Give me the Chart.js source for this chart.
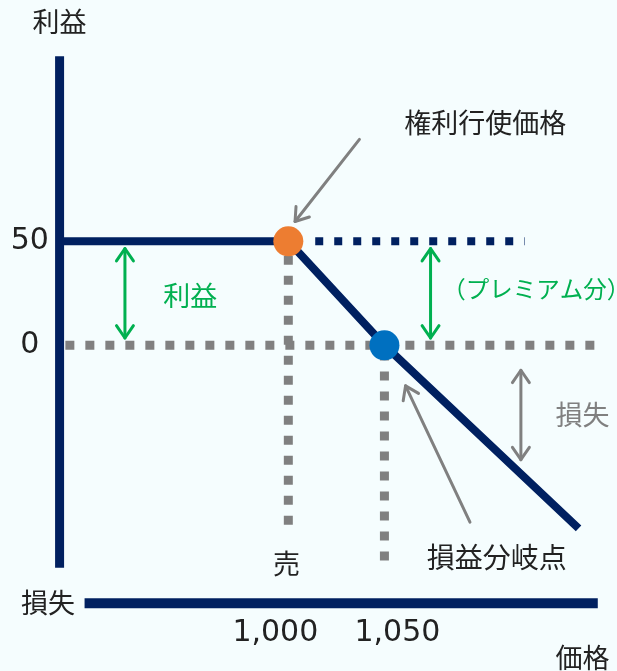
<!DOCTYPE html>
<html>
<head>
<meta charset="utf-8">
<script src="https://cdn.jsdelivr.net/npm/chart.js@4/dist/chart.umd.min.js"></script>
<style>
  html, body { margin: 0; padding: 0; background: #f5fdfe; overflow: hidden; }
  #wrap { width: 617px; height: 671px; position: relative; }
</style>
</head>
<body>
<div id="wrap"><canvas id="payoff"></canvas></div>
<script>
// payoff of the position (price -> profit)
const payoffPrice = [882, 1000, 1050, 1151];
const payoffProfit = [50, 50, 0, -88];

const strikePrice = 1000;
const breakEvenPrice = 1050;
const premium = 50;

// axis tick labels
const yTickValues = [50, 0];
const yTickLabels = ["50", "0"];
const xTickValues = [1000, 1050];
const xTickLabels = ["1,000", "1,050"];

const NAVY = "#002060";
const GRAY = "#808080";
const GREEN = "#00b050";
const FONT = "'Noto Sans CJK JP', 'Noto Sans', sans-serif";
const NUM_FONT = "'DejaVu Sans', sans-serif";

// helper lines (price, profit)
const premiumLine = [{ x: 1014, y: premium }, { x: 1123, y: premium }];
const zeroLine = [{ x: 884, y: 0 }, { x: 1161, y: 0 }];
const strikeDrop = [{ x: strikePrice, y: 43 }, { x: strikePrice, y: -91 }];
const breakEvenDrop = [{ x: breakEvenPrice, y: -3 }, { x: breakEvenPrice, y: -107 }];
const profitAxis = [{ x: 881, y: 139 }, { x: 881, y: -107 }];
const priceAxis = [{ x: 894, y: -124 }, { x: 1161, y: -124 }];

// arrows: [x1, y1, x2, y2, colour, double]
const arrows = [
    [915, 46.5, 915, 3.5, GREEN, true],
    [1074, 46.5, 1074, 3.5, GREEN, true],
    [1121, -12, 1121, -55, GRAY, true],
    [1037, 99, 1003.5, 59.5, GRAY, false],
    [1094.5, -85, 1061, -19.5, GRAY, false]
];

// text labels: [text, x, y, colour, size]
const labels = [
    ["利益", 881, 155.5, "#222", 27],
    ["損失", 875, -124, "#222", 27],
    ["価格", 1153, -150, "#222", 27],
    ["権利行使価格", 1102.5, 107, "#222", 27],
    ["利益", 949, 24, GREEN, 27],
    ["（プレミアム分）", 1129, 27, GREEN, 23.5],
    ["損失", 1153, -33.5, GRAY, 27],
    ["売", 999, -105, "#222", 27],
    ["損益分岐点", 1108.5, -102, "#222", 28]
];

const pts = (xs, ys) => xs.map((x, i) => ({ x: x, y: ys[i] }));

const textPlugin = {
    id: "texts",
    afterDatasetsDraw(chart) {
        const c = chart.ctx;
        const sx = chart.scales.x, sy = chart.scales.y;
        c.save();
        arrows.forEach(a => {
            const x1 = sx.getPixelForValue(a[0]), y1 = sy.getPixelForValue(a[1]);
            const x2 = sx.getPixelForValue(a[2]), y2 = sy.getPixelForValue(a[3]);
            c.strokeStyle = a[4];
            c.lineWidth = 3;
            c.lineCap = "round";
            c.lineJoin = "round";
            c.beginPath();
            c.moveTo(x1, y1);
            c.lineTo(x2, y2);
            c.stroke();
            const head = (hx, hy, ang) => {
                c.beginPath();
                c.moveTo(hx + 15 * Math.cos(ang + 0.6), hy + 15 * Math.sin(ang + 0.6));
                c.lineTo(hx, hy);
                c.lineTo(hx + 15 * Math.cos(ang - 0.6), hy + 15 * Math.sin(ang - 0.6));
                c.stroke();
            };
            const ang = Math.atan2(y1 - y2, x1 - x2);
            head(x2, y2, ang);
            if (a[5]) head(x1, y1, ang + Math.PI);
        });
        c.textAlign = "center";
        c.textBaseline = "middle";
        labels.forEach(l => {
            c.fillStyle = l[3];
            c.font = l[4] + "px " + FONT;
            c.fillText(l[0], sx.getPixelForValue(l[1]), sy.getPixelForValue(l[2]));
        });
        c.fillStyle = "#222";
        c.font = "30px " + NUM_FONT;
        yTickValues.forEach((v, i) => {
            c.fillText(yTickLabels[i], sx.getPixelForValue(865.5), sy.getPixelForValue(v));
        });
        xTickValues.forEach((v, i) => {
            c.fillText(xTickLabels[i], sx.getPixelForValue(v) - 13 + (i * 26), sy.getPixelForValue(-138.5));
        });
        c.restore();
    }
};

new Chart(document.getElementById("payoff"), {
    type: "scatter",
    data: {
        datasets: [
            {
                data: [{ x: strikePrice, y: premium }],
                pointRadius: 15, pointBackgroundColor: "#ed7d31", pointBorderWidth: 0, order: 0
            },
            {
                data: [{ x: breakEvenPrice, y: 0 }],
                pointRadius: 15, pointBackgroundColor: "#0070c0", pointBorderWidth: 0, order: 0
            },
            {
                data: pts(payoffPrice, payoffProfit), showLine: true, borderColor: NAVY,
                borderWidth: 8, pointRadius: 0, order: 1
            },
            {
                data: premiumLine, showLine: true, borderColor: NAVY, borderWidth: 8,
                borderDash: [8, 11], pointRadius: 0, order: 2
            },
            {
                data: zeroLine, showLine: true, borderColor: GRAY, borderWidth: 9,
                borderDash: [9, 11], pointRadius: 0, order: 2
            },
            {
                data: strikeDrop, showLine: true, borderColor: GRAY, borderWidth: 9,
                borderDash: [9, 11], pointRadius: 0, order: 2
            },
            {
                data: breakEvenDrop, showLine: true, borderColor: GRAY, borderWidth: 9,
                borderDash: [9, 11], pointRadius: 0, order: 2
            },
            {
                data: profitAxis, showLine: true, borderColor: NAVY, borderWidth: 9,
                pointRadius: 0, order: 3
            },
            {
                data: priceAxis, showLine: true, borderColor: NAVY, borderWidth: 10,
                pointRadius: 0, order: 3
            }
        ]
    },
    options: {
        responsive: true,
        maintainAspectRatio: false,
        animation: false,
        layout: { padding: 0, autoPadding: false },
        scales: {
            x: { type: "linear", min: 850, max: 1171, display: false },
            y: { type: "linear", min: -156.6, max: 166, display: false }
        },
        plugins: {
            legend: { display: false },
            tooltip: { enabled: false }
        }
    },
    plugins: [textPlugin]
});
</script>
</body>
</html>
